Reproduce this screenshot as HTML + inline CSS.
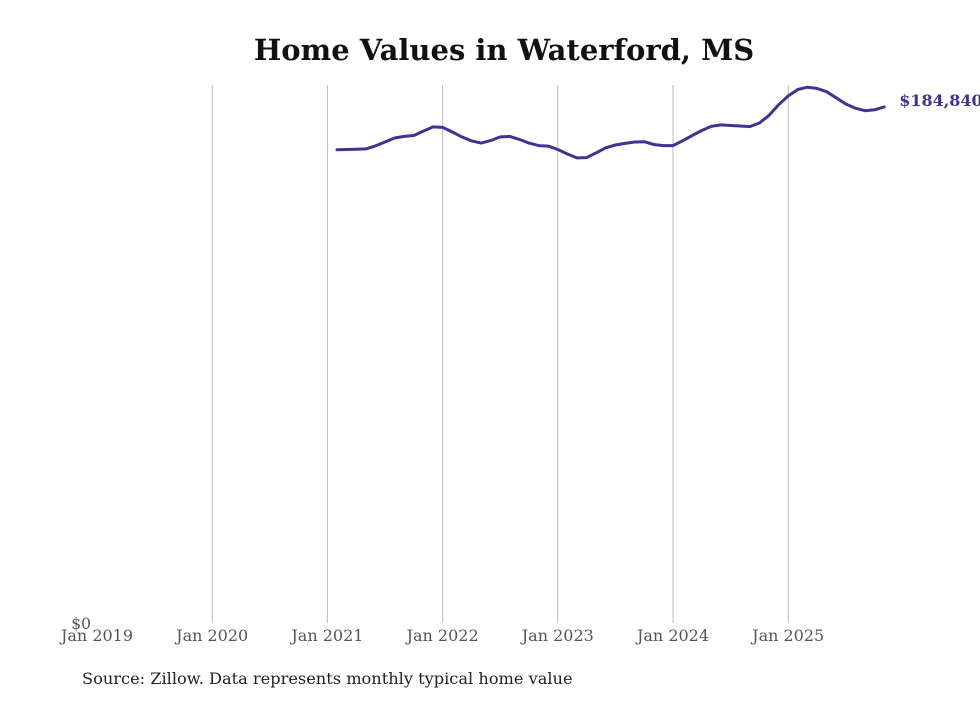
<!DOCTYPE html>
<html><head><meta charset="utf-8"><style>
body{margin:0;background:#fff;width:980px;height:699px;overflow:hidden;font-family:"DejaVu Serif","Liberation Serif",serif}
</style></head><body>
<svg width="980" height="699" id="chart">
<text x="504" y="60" text-anchor="middle" font-size="29" font-weight="bold" fill="#111">Home Values in Waterford, MS</text>
<text x="82" y="684" font-size="16.2" fill="#222">Source: Zillow. Data represents monthly typical home value</text>
</svg>
<script>
const tickLabels=["Jan 2019","Jan 2020","Jan 2021","Jan 2022","Jan 2023","Jan 2024","Jan 2025"];
const tickYears=[2019,2020,2021,2022,2023,2024,2025];
const startYear=2021, startMonth=1; // Feb 2021 (0-based month)
const values=[169500,169600,169700,169800,170900,172300,173700,174300,174600,176200,177700,177500,175900,174100,172700,171900,172800,174100,174300,173200,171900,171000,170800,169600,168000,166600,166700,168400,170200,171200,171800,172300,172400,171400,171000,171000,172700,174600,176400,177900,178400,178200,178000,177800,179100,181800,185600,188800,191100,191900,191500,190300,188100,185900,184400,183500,183800,184840];
const lastLabel="$184,840";
const NS="http://www.w3.org/2000/svg";
const svg=document.getElementById('chart');
const x0=97, pxPerYear=115.2, yBot=623, yTop=85, yMax=192700;
const xs=t=>x0+(t-2019)*pxPerYear;
const ys=v=>yBot-(v/yMax)*(yBot-yTop);
function mk(tag,attrs){const e=document.createElementNS(NS,tag);for(const k in attrs)e.setAttribute(k,attrs[k]);svg.appendChild(e);return e;}
tickYears.forEach((yr,i)=>{
  const x=xs(yr);
  if(i>0){const g=mk('line',{x1:x,x2:x,y1:yTop,y2:yBot,stroke:'#bdbdbd','stroke-width':1});
  
  }
  const t=mk('text',{x:x,y:641,'text-anchor':'middle','font-size':16,fill:'#555'});
  t.textContent=tickLabels[i];
  
  
});
const z=mk('text',{x:91,y:629,'text-anchor':'end','font-size':15.5,fill:'#555'});
z.textContent="$0";


let d='';
values.forEach((v,i)=>{const t=startYear+(startMonth+i)/12;d+=(i?'L':'M')+xs(t).toFixed(1)+' '+ys(v).toFixed(1);});
const p=mk('path',{d:d,fill:'none',stroke:'#3d3494','stroke-width':3,'stroke-linejoin':'round','stroke-linecap':'round'});


const lv=values[values.length-1];
const lt=startYear+(startMonth+values.length-1)/12;
const lab=mk('text',{x:xs(lt)+15,y:ys(lv)-1,'font-size':16,'font-weight':'bold',fill:'#3d3494'});
lab.textContent=lastLabel;


</script>
</body></html>
